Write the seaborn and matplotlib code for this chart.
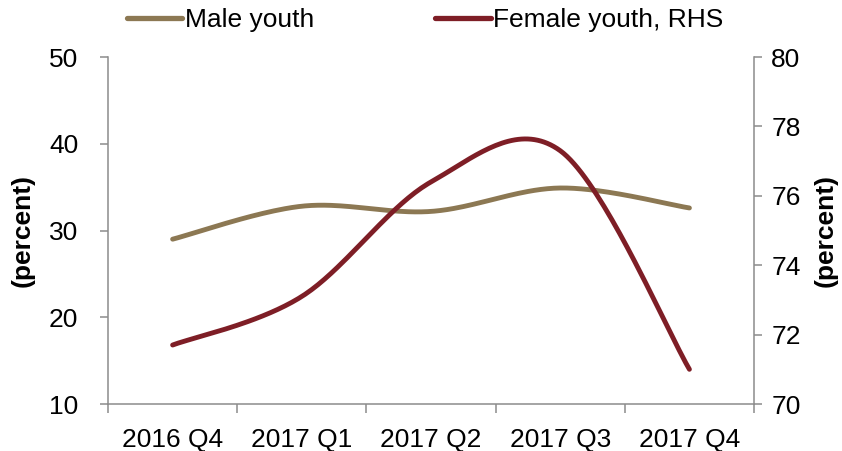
import numpy as np
import pandas as pd
import matplotlib
matplotlib.use("Agg")
import matplotlib.pyplot as plt
import seaborn as sns
from matplotlib.lines import Line2D
from matplotlib.ticker import FixedLocator, NullFormatter

# data
quarters = ["2016 Q4", "2017 Q1", "2017 Q2", "2017 Q3", "2017 Q4"]
male_youth = [29.0, 32.8, 32.2, 34.9, 32.6]
female_youth = [71.7, 73.1, 76.4, 77.3, 71.0]

male_color = "#8C7853"
female_color = "#7E1E26"
grey = "#8C8C8C"

sns.set_theme(style="white")
plt.rcParams["font.family"] = ["Liberation Sans", "DejaVu Sans"]
plt.rcParams["text.color"] = "black"
plt.rcParams["xtick.color"] = "black"
plt.rcParams["ytick.color"] = "black"
plt.rcParams["axes.labelcolor"] = "black"


def smooth(y, n=40):
    # Excel-like smoothed line: cubic Bezier with Catmull-Rom control points
    y = np.asarray(y, dtype=float)
    x = np.arange(len(y), dtype=float)
    pts = np.column_stack([x, y])
    out = []
    for i in range(len(pts) - 1):
        p0 = pts[i - 1] if i > 0 else pts[i]
        p1, p2 = pts[i], pts[i + 1]
        p3 = pts[i + 2] if i + 2 < len(pts) else pts[i + 1]
        b1 = p1 + (p2 - p0) / 6
        b2 = p2 - (p3 - p1) / 6
        t = np.linspace(0, 1, n, endpoint=(i == len(pts) - 2))[:, None]
        seg = ((1 - t) ** 3) * p1 + 3 * ((1 - t) ** 2) * t * b1 + 3 * (1 - t) * t ** 2 * b2 + t ** 3 * p2
        out.append(seg)
    out = np.vstack(out)
    return pd.DataFrame({"x": out[:, 0], "y": out[:, 1]})


fig = plt.figure(figsize=(8.42, 4.51), dpi=100)
ax = fig.add_axes([0.1283, 0.1042, 0.7672, 0.7694])
ax2 = ax.twinx()

sns.lineplot(data=smooth(male_youth), x="x", y="y", ax=ax, color=male_color,
             linewidth=3.5, sort=False, legend=False, solid_capstyle="round")
sns.lineplot(data=smooth(female_youth), x="x", y="y", ax=ax2, color=female_color,
             linewidth=3.5, sort=False, legend=False, solid_capstyle="round")

ax.set_xlim(-0.5, len(quarters) - 0.5)
ax.set_ylim(10, 50)
ax.set_yticks([10, 20, 30, 40, 50])
ax2.set_ylim(70, 80)
ax2.set_yticks([70, 72, 74, 76, 78, 80])

ax.set_xticks(range(len(quarters)))
ax.set_xticklabels(quarters)
ax.xaxis.set_minor_locator(FixedLocator(np.arange(-0.5, len(quarters), 1.0)))
ax.xaxis.set_minor_formatter(NullFormatter())
ax.tick_params(axis="x", which="major", length=0, pad=17, labelsize=19)
ax.tick_params(axis="x", which="minor", length=6.5, width=1.1, color=grey, bottom=True)
ax.tick_params(axis="y", length=5.5, width=1.1, color=grey, labelsize=19, pad=16, left=True)
ax2.tick_params(axis="y", length=5.5, width=1.1, color=grey, labelsize=19, pad=7, right=True)

for a in (ax, ax2):
    a.spines["top"].set_visible(False)
    for s in ("left", "right", "bottom"):
        a.spines[s].set_color(grey)
        a.spines[s].set_linewidth(1.1)
ax.spines["right"].set_visible(False)
ax2.spines["left"].set_visible(False)
ax2.spines["bottom"].set_visible(False)

ax.set_xlabel("")
ax.set_ylabel("(percent)", fontsize=19, fontweight="bold", labelpad=10)
ax2.set_ylabel("(percent)", fontsize=19, fontweight="bold", rotation=90, labelpad=9)

handles = [Line2D([], [], color=male_color, linewidth=3.8),
           Line2D([], [], color=female_color, linewidth=3.8)]
fig.legend(handles, ["Male youth", "Female youth, RHS"], loc="upper center",
           bbox_to_anchor=(0.505, 1.035), ncol=2, frameon=False, fontsize=19,
           handlelength=2.1, handletextpad=0.1, columnspacing=4.6)

fig.savefig("out.png", dpi=100)
